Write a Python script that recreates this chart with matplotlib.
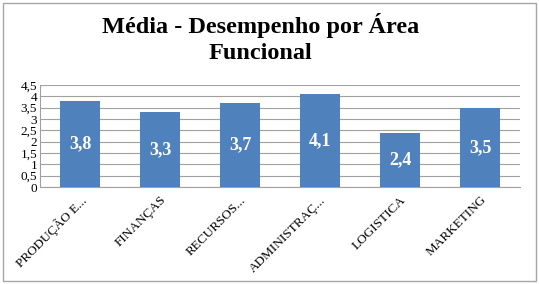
import numpy as np
import matplotlib
matplotlib.use("Agg")
import matplotlib.pyplot as plt
from matplotlib.patches import Rectangle

categorias = ["PRODUÇÃO E...", "FINANÇAS", "RECURSOS...", "ADMINISTRAÇ...", "LOGISTICA", "MARKETING"]
medias = [3.8, 3.3, 3.7, 4.1, 2.4, 3.5]
yticks = [0, 0.5, 1, 1.5, 2, 2.5, 3, 3.5, 4, 4.5]

plt.rcParams['font.family'] = ['Liberation Serif', 'DejaVu Serif']

fig = plt.figure(figsize=(5.39, 2.84), dpi=100)
fig.patches.append(Rectangle((0.006, 0.01), 0.988, 0.98, transform=fig.transFigure,
                             fill=False, edgecolor='#a6a6a6', linewidth=1))
ax = fig.add_axes([40/539, 1 - 187/284, 480/539, 102/284])

x = np.arange(len(categorias))
bars = ax.bar(x, medias, width=0.5, color='#4f81bd', zorder=3)
for b, v in zip(bars, medias):
    ax.text(b.get_x() + b.get_width()/2, v/2, f"{v:.1f}".replace('.', ','),
            ha='center', va='center', color='white', fontsize=13, fontweight='bold')

ax.set_xlim(-0.5, len(categorias) - 0.5)
ax.set_ylim(0, 4.5)
ax.set_yticks(yticks)
ax.set_yticklabels([f"{t:g}".replace('.', ',') for t in yticks], fontsize=9.5)
ax.tick_params(axis='y', length=0, pad=2)
ax.set_xticks(x)
ax.set_xticklabels(categorias, rotation=45, ha='right', rotation_mode='anchor', fontsize=9.5)
ax.tick_params(axis='x', length=0, pad=5)
ax.grid(axis='y', color='#a0a0a0', linewidth=0.8, zorder=0)
for s in ['top', 'right']:
    ax.spines[s].set_visible(False)
ax.spines['left'].set_color('#a0a0a0')
ax.spines['bottom'].set_color('#a0a0a0')

fig.text(0.483, 0.955, "Média - Desempenho por Área\nFuncional", ha='center', va='top',
         fontsize=17.5, fontweight='bold', linespacing=1.35)

fig.savefig("out.png", dpi=100)
